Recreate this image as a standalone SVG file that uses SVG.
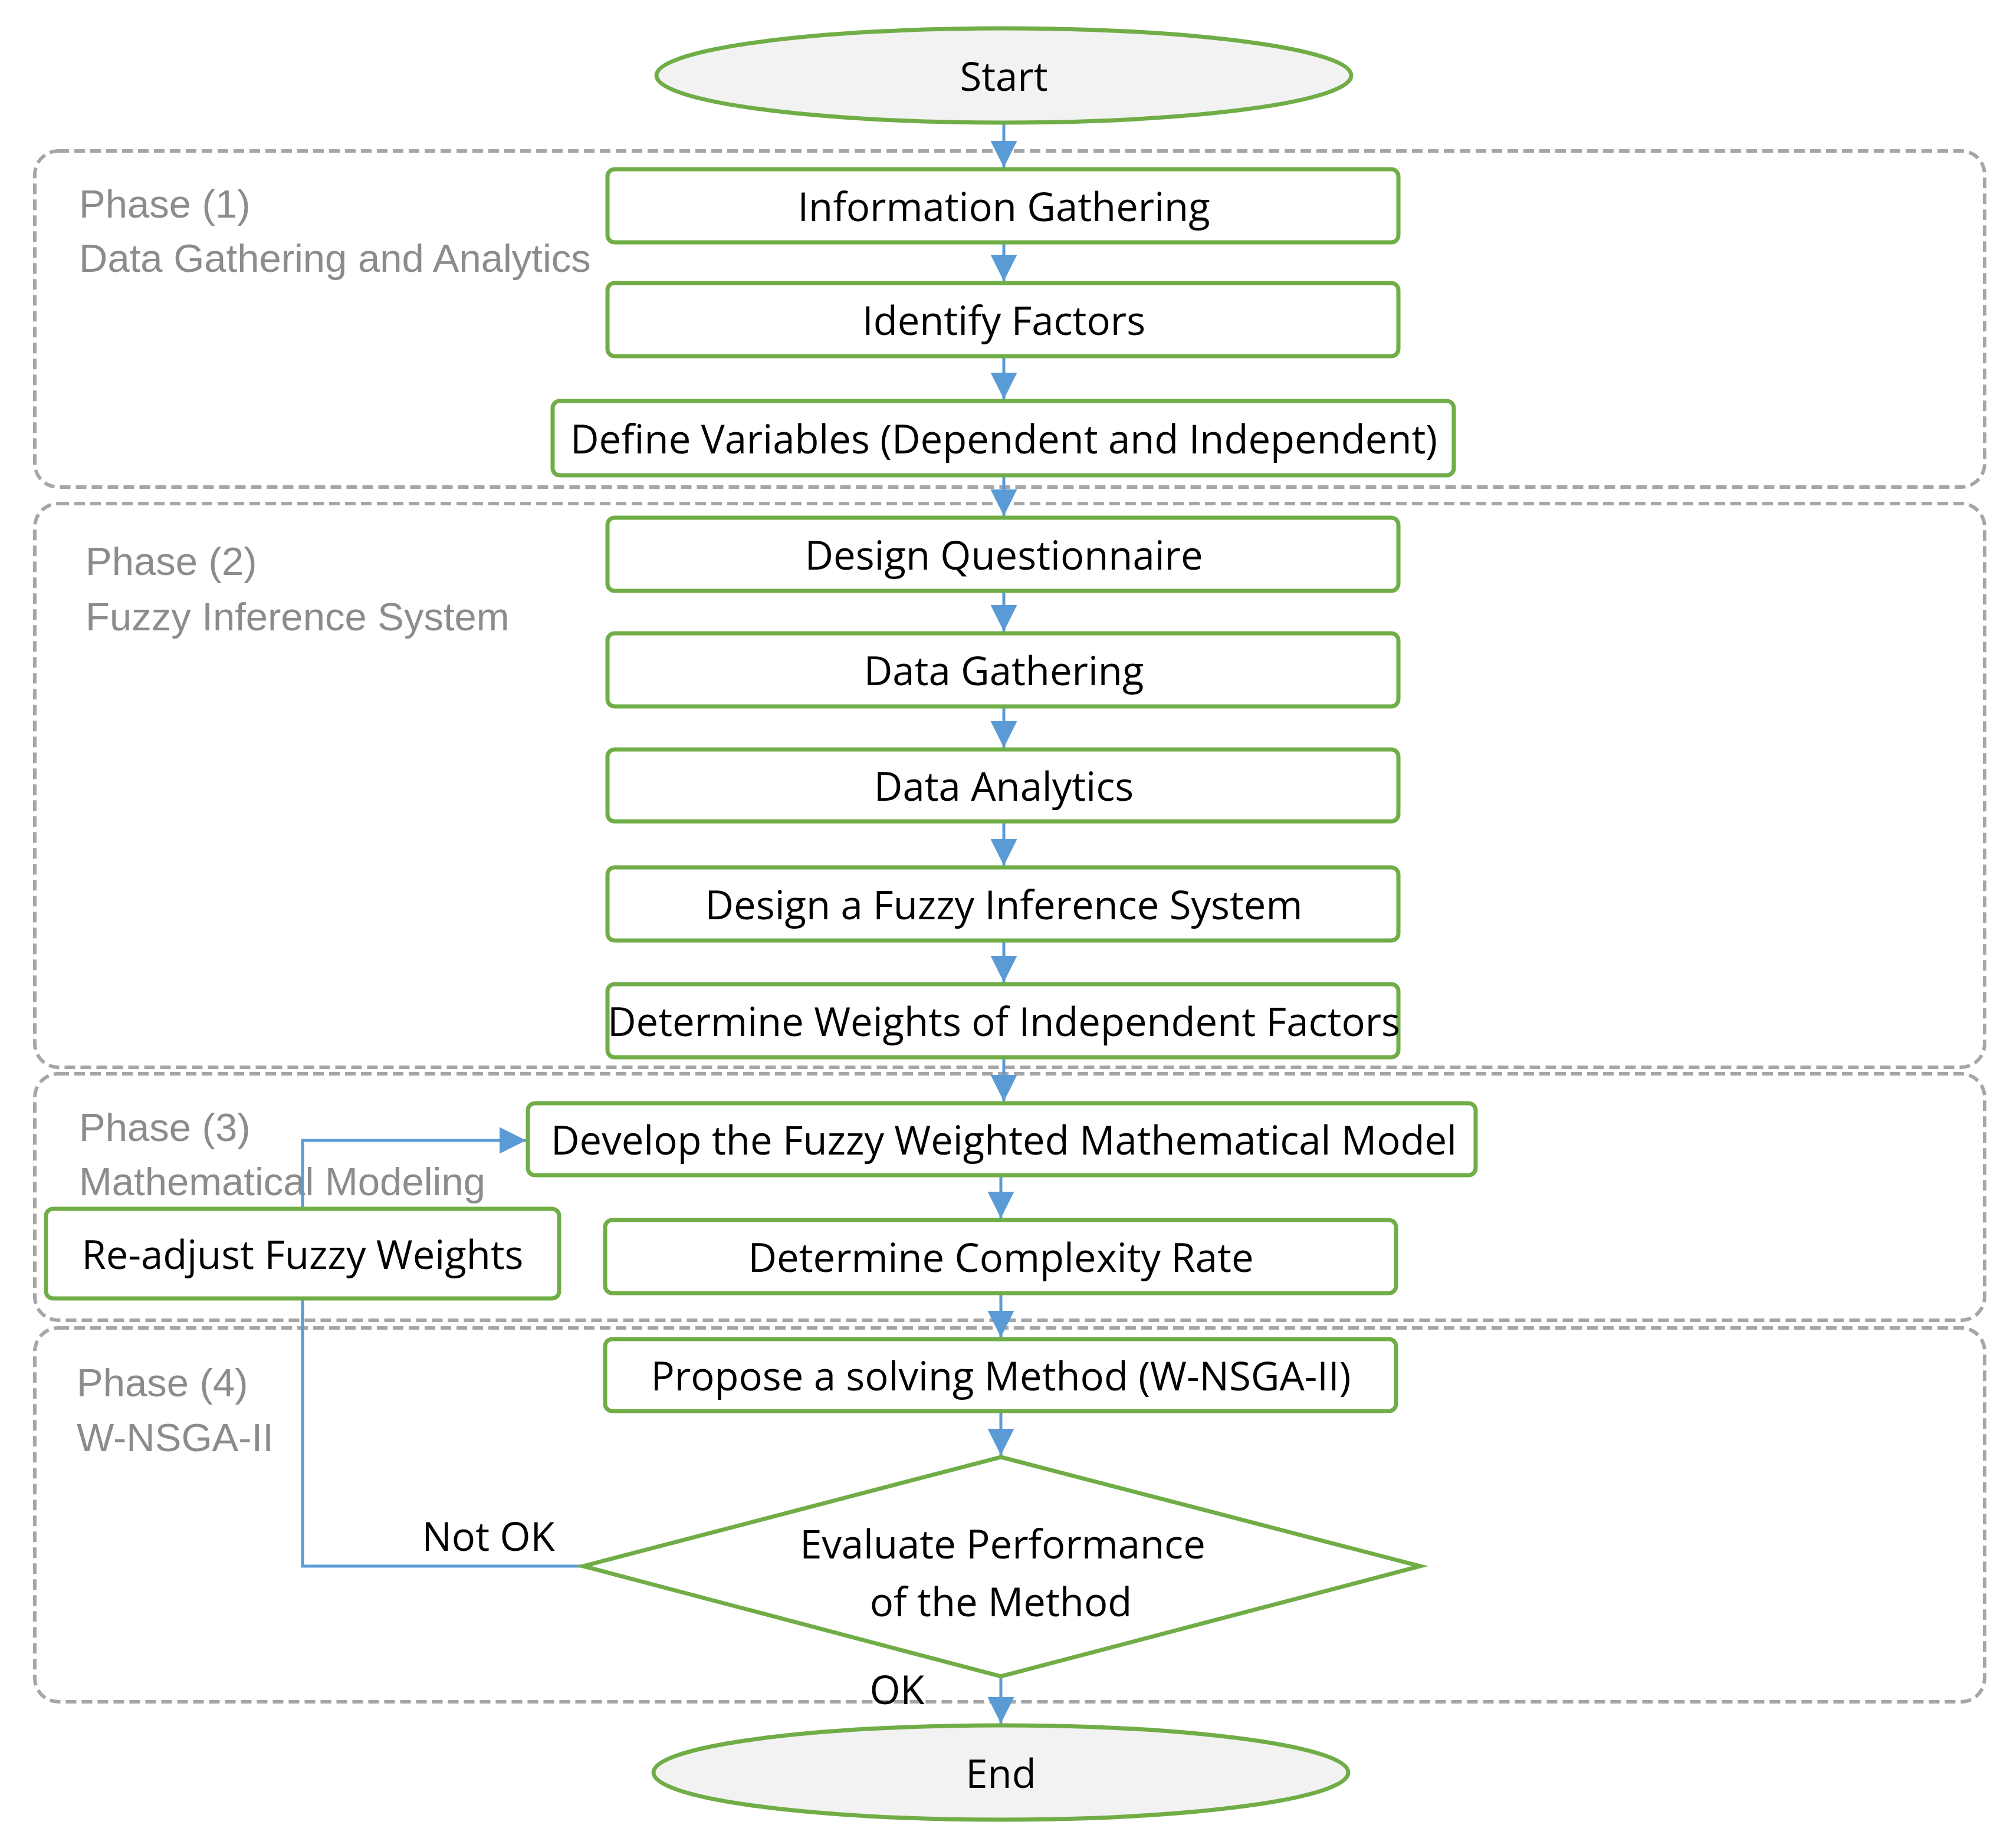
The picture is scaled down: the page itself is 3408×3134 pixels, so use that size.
<svg xmlns="http://www.w3.org/2000/svg" width="3408" height="3134" viewBox="0 0 3408 3134">
<style>
.ph{fill:none;stroke:#a6a6a6;stroke-width:6;stroke-dasharray:18 9}
.nd{fill:#fff;stroke:#70ad47;stroke-width:7}
.el{fill:#f2f2f2;stroke:#70ad47;stroke-width:7}
.t{font-family:"Open Sans",sans-serif;font-size:67px;fill:#000;text-anchor:middle;dominant-baseline:central}
.pl{font-family:"Liberation Sans",Arial,sans-serif;font-size:67px;fill:#8c8c8c}
.c{stroke:#5b9bd5;stroke-width:5;fill:none}
</style>
<defs><marker id="a" viewBox="0 0 10 10" refX="10" refY="5" markerWidth="9" markerHeight="9" markerUnits="strokeWidth" orient="auto"><path d="M0,0L10,5L0,10z" fill="#5b9bd5"/></marker></defs>
<rect width="3408" height="3134" fill="#fff"/>
<g id="phases">
<rect class="ph" x="59" y="256" width="3306" height="570" rx="40"/>
<rect class="ph" x="59" y="854" width="3306" height="956" rx="40"/>
<rect class="ph" x="59" y="1821" width="3306" height="418" rx="40"/>
<rect class="ph" x="59" y="2252" width="3306" height="634" rx="40"/>
<text class="pl" x="134" y="369">Phase (1)</text>
<text class="pl" x="134" y="461">Data Gathering and Analytics</text>
<text class="pl" x="145" y="975">Phase (2)</text>
<text class="pl" x="145" y="1069">Fuzzy Inference System</text>
<text class="pl" x="134" y="1935">Phase (3)</text>
<text class="pl" x="134" y="2027">Mathematical Modeling</text>
<text class="pl" x="130" y="2368">Phase (4)</text>
<text class="pl" x="130" y="2461">W-NSGA-II</text>
</g>
<g id="connectors">
<path class="c" marker-end="url(#a)" d="M1702,208V284"/>
<path class="c" marker-end="url(#a)" d="M1702,411V477"/>
<path class="c" marker-end="url(#a)" d="M1702,604V677"/>
<path class="c" marker-end="url(#a)" d="M1702,806V875"/>
<path class="c" marker-end="url(#a)" d="M1702,1002V1071"/>
<path class="c" marker-end="url(#a)" d="M1702,1198V1268"/>
<path class="c" marker-end="url(#a)" d="M1702,1393V1468"/>
<path class="c" marker-end="url(#a)" d="M1702,1595V1666"/>
<path class="c" marker-end="url(#a)" d="M1702,1793V1868"/>
<path class="c" marker-end="url(#a)" d="M1697,1993V2066"/>
<path class="c" marker-end="url(#a)" d="M1697,2193V2268"/>
<path class="c" marker-end="url(#a)" d="M1697,2393V2468"/>
<path class="c" marker-end="url(#a)" d="M1697,2843V2923"/>
<path class="c" marker-end="url(#a)" d="M989,2656H513V1934H892"/>
</g>
<g id="start"><ellipse class="el" cx="1702" cy="128" rx="589" ry="80"/><text class="t" x="1702" y="128">Start</text></g>
<g id="n1"><rect class="nd" x="1030" y="287" width="1341" height="124" rx="12"/><text class="t" x="1702" y="349">Information Gathering</text></g>
<g id="n2"><rect class="nd" x="1030" y="480" width="1341" height="124" rx="12"/><text class="t" x="1702" y="542">Identify Factors</text></g>
<g id="n3"><rect class="nd" x="937" y="680" width="1528" height="126" rx="12"/><text class="t" x="1702" y="743">Define Variables (Dependent and Independent)</text></g>
<g id="n4"><rect class="nd" x="1030" y="878" width="1341" height="124" rx="12"/><text class="t" x="1702" y="940">Design Questionnaire</text></g>
<g id="n5"><rect class="nd" x="1030" y="1074" width="1341" height="124" rx="12"/><text class="t" x="1702" y="1136">Data Gathering</text></g>
<g id="n6"><rect class="nd" x="1030" y="1271" width="1341" height="122" rx="12"/><text class="t" x="1702" y="1332">Data Analytics</text></g>
<g id="n7"><rect class="nd" x="1030" y="1471" width="1341" height="124" rx="12"/><text class="t" x="1702" y="1533">Design a Fuzzy Inference System</text></g>
<g id="n8"><rect class="nd" x="1030" y="1669" width="1341" height="124" rx="12"/><text class="t" x="1702" y="1731">Determine Weights of Independent Factors</text></g>
<g id="n9"><rect class="nd" x="895" y="1871" width="1607" height="122" rx="12"/><text class="t" x="1702" y="1932">Develop the Fuzzy Weighted Mathematical Model</text></g>
<g id="n10"><rect class="nd" x="78" y="2050" width="870" height="152" rx="12"/><text class="t" x="513" y="2126">Re-adjust Fuzzy Weights</text></g>
<g id="n11"><rect class="nd" x="1026" y="2069" width="1341" height="124" rx="12"/><text class="t" x="1697" y="2131">Determine Complexity Rate</text></g>
<g id="n12"><rect class="nd" x="1026" y="2271" width="1341" height="122" rx="12"/><text class="t" x="1697" y="2332">Propose a solving Method (W-NSGA-II)</text></g>
<g id="n13"><path class="nd" d="M1697,2471L2408,2656L1697,2843L989,2656Z"/><text class="t" x="1700" y="2617">Evaluate Performance</text><text class="t" x="1697" y="2715">of the Method</text></g>
<g id="labels"><text class="t" x="828" y="2604">Not OK</text><text class="t" x="1521" y="2864">OK</text></g>
<g id="end"><ellipse class="el" cx="1697" cy="3006" rx="589" ry="80"/><text class="t" x="1697" y="3006">End</text></g>
</svg>
